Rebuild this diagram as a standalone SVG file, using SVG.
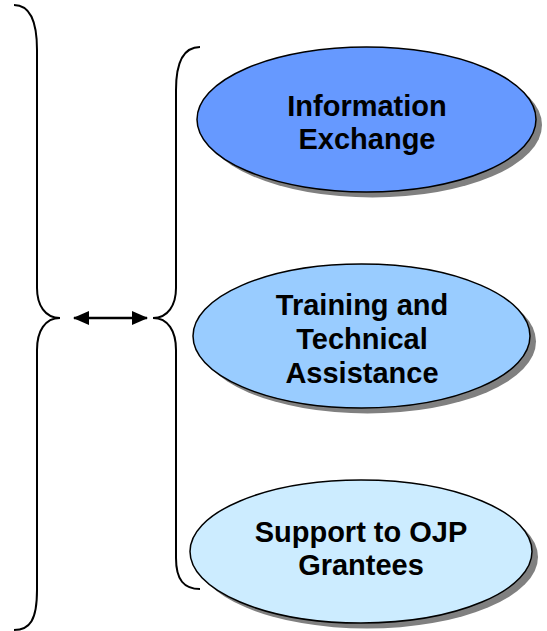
<svg xmlns="http://www.w3.org/2000/svg" width="547" height="631" viewBox="0 0 547 631">
<style>
.brace{fill:none;stroke:#000;stroke-width:2}
.shadow{fill:#808080}
.ell{stroke:#000;stroke-width:1.5}
.lbl{font-family:"Liberation Sans",Arial,sans-serif;font-weight:bold;font-size:29px;fill:#000;text-anchor:middle}
</style>
<defs>
<marker id="ah" viewBox="0 0 16 14" refX="15" refY="7" markerWidth="16" markerHeight="14" markerUnits="userSpaceOnUse" orient="auto-start-reverse">
<path d="M0,0 L16,7 L0,14 Z" fill="#000"/>
</marker>
</defs>
<g id="connectors">
<path class="brace" d="M14,5 C30,5 37,20 37,50 L37,288 C37,305 45,318 60,318 C45,318 37,331 37,350 L37,590 C37,620 30,630 14,630"/>
<path class="brace" d="M200,47 C184,47 176,62 176,90 L176,288 C176,305 168,318 153,318 C168,318 176,331 176,350 L176,558 C176,580 184,589 200,589"/>
<line x1="74" y1="318" x2="147" y2="318" stroke="#000" stroke-width="2.5" marker-start="url(#ah)" marker-end="url(#ah)"/>
</g>
<g id="info">
<ellipse class="shadow" cx="372.5" cy="125" rx="169.5" ry="72.5"/>
<ellipse class="ell" cx="366.5" cy="119.5" rx="169.5" ry="72.5" fill="#6699FF"/>
<text class="lbl" x="367" y="116">Information</text>
<text class="lbl" x="367" y="149">Exchange</text>
</g>
<g id="training">
<ellipse class="shadow" cx="367.5" cy="341.5" rx="168.5" ry="72"/>
<ellipse class="ell" cx="361.5" cy="336" rx="168.5" ry="72" fill="#99CCFF"/>
<text class="lbl" x="362" y="315">Training and</text>
<text class="lbl" x="362" y="349">Technical</text>
<text class="lbl" x="362" y="383">Assistance</text>
</g>
<g id="support">
<ellipse class="shadow" cx="367" cy="557" rx="171" ry="71.5"/>
<ellipse class="ell" cx="361" cy="551.5" rx="171" ry="71.5" fill="#CCECFF"/>
<text class="lbl" x="361" y="542">Support to OJP</text>
<text class="lbl" x="361" y="575">Grantees</text>
</g>
</svg>
